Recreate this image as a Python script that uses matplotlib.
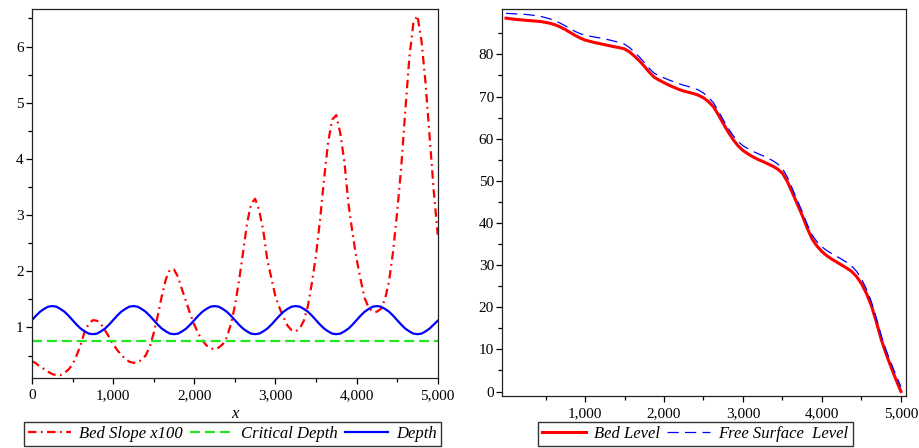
import matplotlib
matplotlib.use("Agg")
import matplotlib.pyplot as plt
from matplotlib.ticker import FixedLocator, FuncFormatter

# ---------------- data ----------------
# Left panel: bed slope (x100) and depth, sampled every 50 m
slope_x = list(range(0, 5001, 50))
bed_slope_x100 = [
    0.40, 0.36, 0.30, 0.26, 0.21, 0.17, 0.15, 0.15, 0.19, 0.25,
    0.34, 0.50, 0.69, 0.93, 1.07, 1.13, 1.12, 1.06, 0.95, 0.83,
    0.70, 0.60, 0.51, 0.44, 0.39, 0.37, 0.38, 0.42, 0.50, 0.65,
    0.90, 1.21, 1.56, 1.86, 2.03, 2.03, 1.90, 1.67, 1.46, 1.24,
    1.05, 0.89, 0.77, 0.68, 0.63, 0.61, 0.64, 0.70, 0.82, 1.05,
    1.38, 1.82, 2.32, 2.85, 3.20, 3.29, 3.08, 2.73, 2.20, 1.88,
    1.55, 1.35, 1.18, 1.03, 0.95, 0.93, 0.98, 1.12, 1.38, 1.80,
    2.28, 2.92, 3.65, 4.30, 4.70, 4.78, 4.45, 3.95, 3.20, 2.68,
    2.22, 1.85, 1.52, 1.35, 1.28, 1.28, 1.33, 1.50, 1.82, 2.35,
    3.05, 3.85, 4.85, 5.80, 6.42, 6.55, 6.10, 5.35, 4.40, 3.45,
    2.65,
]
depth = [
    1.13, 1.21, 1.28, 1.33, 1.37, 1.38, 1.37, 1.33, 1.28, 1.21,
    1.13, 1.05, 0.98, 0.93, 0.89, 0.88, 0.89, 0.93, 0.98, 1.05,
    1.13, 1.21, 1.28, 1.33, 1.37, 1.38, 1.37, 1.33, 1.28, 1.21,
    1.13, 1.05, 0.98, 0.93, 0.89, 0.88, 0.89, 0.93, 0.98, 1.05,
    1.13, 1.21, 1.28, 1.33, 1.37, 1.38, 1.37, 1.33, 1.28, 1.21,
    1.13, 1.05, 0.98, 0.93, 0.89, 0.88, 0.89, 0.93, 0.98, 1.05,
    1.13, 1.21, 1.28, 1.33, 1.37, 1.38, 1.37, 1.33, 1.28, 1.21,
    1.13, 1.05, 0.98, 0.93, 0.89, 0.88, 0.89, 0.93, 0.98, 1.05,
    1.13, 1.21, 1.28, 1.33, 1.37, 1.38, 1.37, 1.33, 1.28, 1.21,
    1.13, 1.05, 0.98, 0.93, 0.89, 0.88, 0.89, 0.93, 0.98, 1.05,
    1.12,
]
critical_depth = 0.76

# Right panel: levels, sampled every 62.5 m
level_x = [i * 62.5 for i in range(81)]
bed_level = [
    88.6, 88.45, 88.3, 88.2, 88.1, 88.0, 87.9, 87.8,
    87.6, 87.35, 87.0, 86.5, 85.9, 85.2, 84.5, 83.9,
    83.4, 83.1, 82.8, 82.55, 82.3, 82.05, 81.8, 81.6,
    81.3, 80.6, 79.6, 78.5, 77.2, 75.8, 74.6, 73.9,
    73.3, 72.7, 72.2, 71.7, 71.3, 71.0, 70.7, 70.3,
    69.7, 68.8, 67.6, 65.7, 63.6, 61.6, 59.8, 58.3,
    57.2, 56.4, 55.7, 55.1, 54.6, 54.05, 53.5, 52.8,
    51.8, 49.8, 47.2, 44.5, 41.8, 38.8, 36.2, 34.5,
    33.2, 32.2, 31.4, 30.7, 30.0, 29.3, 28.5, 27.3,
    25.6, 23.3, 20.4, 16.6, 12.4, 8.9, 5.8, 2.8,
    0.0,
]
free_surface = [
    89.73, 89.68, 89.61, 89.56, 89.48, 89.36, 89.21, 89.03,
    88.73, 88.38, 87.95, 87.40, 86.78, 86.10, 85.45, 84.93,
    84.53, 84.33, 84.11, 83.91, 83.68, 83.41, 83.11, 82.83,
    82.43, 81.63, 80.55, 79.40, 78.08, 76.70, 75.55, 74.93,
    74.43, 73.93, 73.51, 73.06, 72.68, 72.36, 72.01, 71.53,
    70.83, 69.83, 68.55, 66.60, 64.48, 62.50, 60.75, 59.33,
    58.33, 57.63, 57.01, 56.46, 55.98, 55.41, 54.81, 54.03,
    52.93, 50.83, 48.15, 45.40, 42.68, 39.70, 37.15, 35.53,
    34.33, 33.43, 32.71, 32.06, 31.38, 30.66, 29.81, 28.53,
    26.73, 24.33, 21.35, 17.50, 13.28, 9.80, 6.75, 3.83,
    1.12,
]

left_yticks = [1, 2, 3, 4, 5, 6]
left_xticks = [0, 1000, 2000, 3000, 4000, 5000]
right_yticks = [0, 10, 20, 30, 40, 50, 60, 70, 80]
right_xticks = [1000, 2000, 3000, 4000, 5000]

# ---------------- style ----------------
SERIF = ["Liberation Serif", "DejaVu Serif"]
plt.rcParams["font.family"] = SERIF
plt.rcParams["font.size"] = 11

RED = "#ff0000"
GREEN = "#22e622"
BLUE = "#0000ff"

fig = plt.figure(figsize=(9.19, 4.48), dpi=100)
axL = fig.add_axes([0.0348, 0.15625, 0.4415, 0.8226])
axR = fig.add_axes([0.5466, 0.1167, 0.4389, 0.8625])

thousands = FuncFormatter(lambda v, p: f"{int(v):,}")

# Left panel
lBS, = axL.plot(slope_x, bed_slope_x100, color=RED, lw=1.6,
                linestyle=(0, (3.8, 2.0, 0.8, 2.0)), label="Bed Slope x100")
lCD, = axL.plot([slope_x[0], slope_x[-1]], [critical_depth, critical_depth],
                color=GREEN, lw=1.6, linestyle=(0, (4.5, 2.2)), label="Critical Depth")
lD, = axL.plot(slope_x, depth, color=BLUE, lw=1.6, label="Depth")
axL.set_xlim(0, 5000)
axL.set_ylim(0.1, 6.66)
axL.xaxis.set_major_locator(FixedLocator(left_xticks))
axL.xaxis.set_minor_locator(FixedLocator([500, 1500, 2500, 3500, 4500]))
axL.yaxis.set_major_locator(FixedLocator(left_yticks))
axL.yaxis.set_minor_locator(FixedLocator([0.5, 1.5, 2.5, 3.5, 4.5, 5.5, 6.5]))
axL.xaxis.set_major_formatter(thousands)
axL.set_xlabel("x", fontstyle="italic", fontsize=12, labelpad=3)

# Right panel
lBL, = axR.plot(level_x, bed_level, color=RED, lw=2.2, label="Bed Level")
lFS, = axR.plot(level_x, free_surface, color=BLUE, lw=0.9,
                linestyle=(0, (9, 5)), label="Free Surface  Level")
axR.set_xlim(-47, 5060)
axR.set_ylim(-1, 90.7)
axR.xaxis.set_major_locator(FixedLocator(right_xticks))
axR.xaxis.set_minor_locator(FixedLocator([500, 1500, 2500, 3500, 4500]))
axR.yaxis.set_major_locator(FixedLocator(right_yticks))
axR.yaxis.set_minor_locator(FixedLocator([5, 15, 25, 35, 45, 55, 65, 75, 85]))
axR.xaxis.set_major_formatter(thousands)

for ax in (axL, axR):
    for s in ax.spines.values():
        s.set_linewidth(0.9)
        s.set_color("#222222")
    ax.tick_params(which="major", length=4, width=0.9, direction="out",
                   labelsize=11, pad=2)
    ax.tick_params(which="minor", length=3, width=0.9, direction="out")
    ax.tick_params(axis="x", pad=4)

legkw = dict(frameon=True, fancybox=False, edgecolor="#333333",
             framealpha=1, handlelength=2.6, handletextpad=0.5,
             borderpad=0.25, borderaxespad=0.0, columnspacing=0.4,
             prop={"family": SERIF, "style": "italic", "size": 12})
legL = fig.legend(handles=[lBS, lCD, lD], loc="center", ncol=3,
                  bbox_to_anchor=(0.253, 0.0315), **legkw)
legL.get_frame().set_linewidth(1.0)
legR = fig.legend(handles=[lBL, lFS], loc="center", ncol=2,
                  bbox_to_anchor=(0.7567, 0.0315), **legkw)
legR.get_frame().set_linewidth(1.0)

fig.savefig("out.png", dpi=100)
